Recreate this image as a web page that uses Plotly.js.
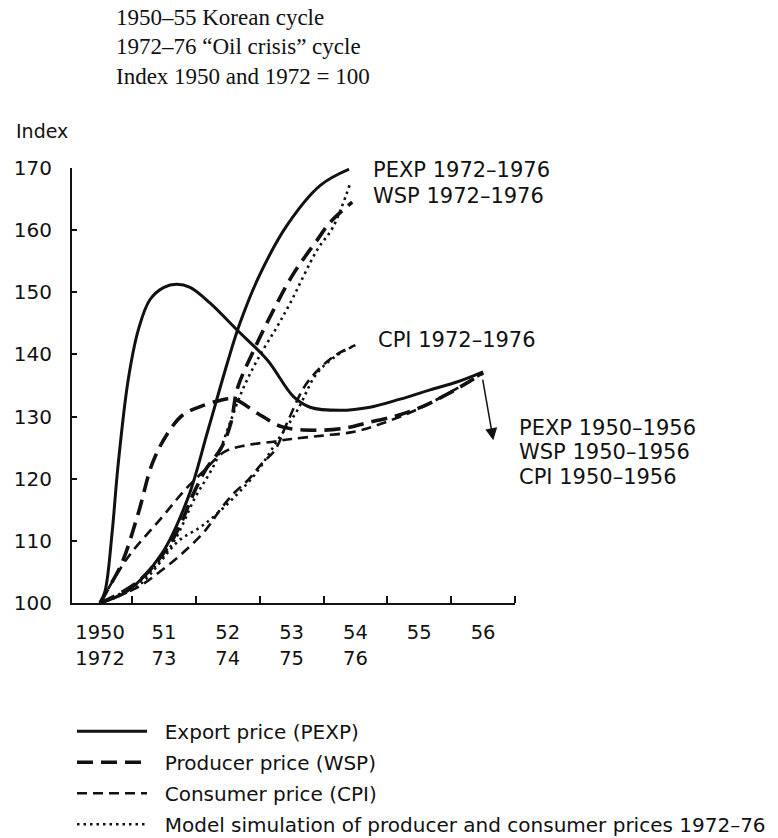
<!DOCTYPE html>
<html>
<head>
<meta charset="utf-8">
<script src="https://cdn.plot.ly/plotly-3.0.1.min.js"></script>
<style>html,body{margin:0;padding:0;background:#fff;}#chart{width:778px;height:838px;}</style>
</head>
<body>
<div id="chart"></div>
<script>
// Tick labels (year offset from 1950 / 1972)
const yearTicks = [0, 1, 2, 3, 4, 5, 6];
const yearLabels = ["1950<br>1972", "51<br>73", "52<br>74", "53<br>75", "54<br>76", "55", "56"];
const yTicks = [100, 110, 120, 130, 140, 150, 160, 170];

// Export price (PEXP) 1950-1956
const pexp50_t = [0, 0.08, 0.19, 0.28, 0.44, 0.6, 0.78, 1.0, 1.2, 1.41, 1.72, 2.15, 2.62, 3.03, 3.29, 3.76, 4.23, 4.7, 5.17, 5.6, 6.0];
const pexp50_v = [100, 102, 111.5, 122, 135.9, 144, 148.8, 150.8, 151.3, 150.8, 148.3, 143.9, 139.1, 133.2, 131.5, 131, 131.5, 132.8, 134.3, 135.6, 137.2];
// Export price (PEXP) 1972-1976
const pexp72_t = [0, 0.44, 0.97, 1.38, 1.69, 1.99, 2.19, 2.5, 2.93, 3.45, 3.9];
const pexp72_v = [100, 102, 108, 117, 127.8, 138.5, 145, 152.8, 160.8, 167.2, 169.8];

// Producer price (WSP) 1950-1956
const wsp50_t = [0, 0.11, 0.34, 0.6, 0.82, 1.07, 1.3, 1.57, 1.88, 2.1, 2.5, 2.87, 3.4, 3.87, 4.18, 4.6, 5.0, 5.44, 6.0];
const wsp50_v = [100, 102, 106.4, 114.5, 122.5, 127.5, 130.3, 131.6, 132.6, 132.8, 130.3, 128.3, 127.8, 128.2, 129, 130, 131.4, 133.6, 137];
// Producer price (WSP) 1972-1976
const wsp72_t = [0, 0.6, 1.13, 1.49, 1.65, 1.9, 2.05, 2.15, 2.4, 2.71, 3.03, 3.4, 3.6, 3.95];
const wsp72_v = [100, 103.5, 110.1, 118.2, 121.4, 125, 129, 134.5, 140.5, 147, 153, 158.4, 161.2, 164.5];

// Consumer price (CPI) 1950-1956
const cpi50_t = [0, 0.44, 0.97, 1.33, 1.6, 1.96, 2.3, 2.74, 3.0, 3.45, 4.0, 4.5, 5.0, 5.5, 6.0];
const cpi50_v = [100, 107.4, 113.8, 118.2, 121, 124.4, 125.4, 126, 126.4, 126.9, 127.6, 129.2, 131.3, 134, 137];
// Consumer price (CPI) 1972-1976
const cpi72_t = [0, 0.6, 0.97, 1.29, 1.65, 1.91, 2.12, 2.32, 2.54, 2.74, 2.93, 3.24, 3.65, 4.0];
const cpi72_v = [100, 102.6, 105.3, 108, 111.7, 115.4, 117.9, 119.8, 122.5, 124.6, 129, 135.4, 139.6, 141.5];

// Model simulation 1972-76 (producer and consumer prices)
const simWsp_t = [0, 0.6, 1.13, 1.49, 1.8, 2.0, 2.24, 2.5, 2.77, 2.98, 3.4, 3.65, 3.92];
const simWsp_v = [100, 103.3, 109.5, 117, 122.5, 128, 134.5, 139.8, 144.4, 148.3, 156.8, 160.5, 167.6];
const simCpi_t = [0, 0.6, 1.23, 1.54, 1.77, 2.1, 2.45, 2.77, 3.09, 3.4, 3.76, 3.97];
const simCpi_v = [100, 102.8, 110, 112, 113.8, 117, 121, 126, 131, 137, 140.2, 141.3];

const legendNames = [
  "Export price (PEXP)",
  "Producer price (WSP)",
  "Consumer price (CPI)",
  "Model simulation of producer and consumer prices 1972\u201376"
];

const solid = {color: '#111', width: 3, shape: 'spline', smoothing: 1, dash: 'solid'};
const prodDash = {color: '#111', width: 3.6, shape: 'spline', smoothing: 1, dash: '16px,8px'};
const consDash = {color: '#111', width: 2.6, shape: 'spline', smoothing: 1, dash: '10px,6px'};
const dotted = {color: '#111', width: 2.6, shape: 'spline', smoothing: 1, dash: '2.5px,4px'};

function tr(x, y, line, gi, show) {
  return {x: x, y: y, type: 'scatter', mode: 'lines', line: line,
          name: '\u00a0\u00a0' + legendNames[gi], legendgroup: 'g' + gi,
          showlegend: show, hoverinfo: 'skip'};
}

const data = [
  tr(pexp50_t, pexp50_v, solid, 0, true),
  tr(wsp50_t, wsp50_v, prodDash, 1, true),
  tr(cpi50_t, cpi50_v, consDash, 2, true),
  tr(simWsp_t, simWsp_v, dotted, 3, true),
  tr(pexp72_t, pexp72_v, solid, 0, false),
  tr(wsp72_t, wsp72_v, prodDash, 1, false),
  tr(cpi72_t, cpi72_v, consDash, 2, false),
  tr(simCpi_t, simCpi_v, dotted, 3, false)
];

const sans = 'DejaVu Sans, sans-serif';
const serif = 'Liberation Serif, serif';

function lab(text, x, y, size, fam) {
  return {text: text, xref: 'paper', yref: 'paper', x: x, y: y, xanchor: 'left', yanchor: 'middle',
          showarrow: false, font: {family: fam || sans, size: size || 21, color: '#111'}};
}

const layout = {
  width: 778, height: 838,
  margin: {l: 72, r: 263, t: 168, b: 235, autoexpand: false},
  paper_bgcolor: '#fff', plot_bgcolor: '#fff',
  showlegend: true,
  legend: {x: 0.0, y: -0.25, xanchor: 'left', yanchor: 'top', itemwidth: 70, tracegroupgap: 2,
           traceorder: 'grouped',
           font: {family: sans, size: 20, color: '#111'}, bgcolor: 'rgba(0,0,0,0)'},
  xaxis: {
    range: [-0.44, 6.5], showgrid: false, zeroline: false,
    showline: true, linecolor: '#111', linewidth: 2,
    tickvals: yearTicks, ticktext: yearLabels, ticks: '',
    ticklabelstandoff: 11,
    tickfont: {family: sans, size: 19.5, color: '#111'},
    minor: {ticks: 'inside', tick0: 0.5, dtick: 1, ticklen: 7, tickwidth: 2, tickcolor: '#111', showgrid: false}
  },
  yaxis: {
    range: [100, 170], showgrid: false, zeroline: false,
    showline: true, linecolor: '#111', linewidth: 2,
    tickvals: yTicks, ticks: 'inside', ticklen: 5, tickwidth: 2, tickcolor: '#111',
    ticklabelstandoff: 14,
    tickfont: {family: sans, size: 20, color: '#111'}
  },
  annotations: [
    lab('1950\u201355 Korean cycle', 0.095, 1.347, 23, serif),
    lab('1972\u201376 \u201cOil crisis\u201d cycle', 0.095, 1.280, 23, serif),
    lab('Index 1950 and 1972 = 100', 0.095, 1.211, 23, serif),
    lab('Index', -0.131, 1.085, 19),
    lab('PEXP 1972\u20131976', 0.675, 0.995),
    lab('WSP 1972\u20131976', 0.675, 0.936),
    lab('CPI 1972\u20131976', 0.686, 0.605),
    lab('PEXP 1950\u20131956', 1.005, 0.402),
    lab('WSP 1950\u20131956', 1.005, 0.347),
    lab('CPI 1950\u20131956', 1.005, 0.290),
    {x: 6.16, y: 126.2, ax: 5.99, ay: 136.2, xref: 'x', yref: 'y', axref: 'x', ayref: 'y',
     showarrow: true, arrowhead: 2, arrowsize: 1.6, arrowwidth: 1.5, arrowcolor: '#111', text: ''}
  ]
};

Plotly.newPlot('chart', data, layout, {staticPlot: true, displayModeBar: false});
</script>
</body>
</html>
